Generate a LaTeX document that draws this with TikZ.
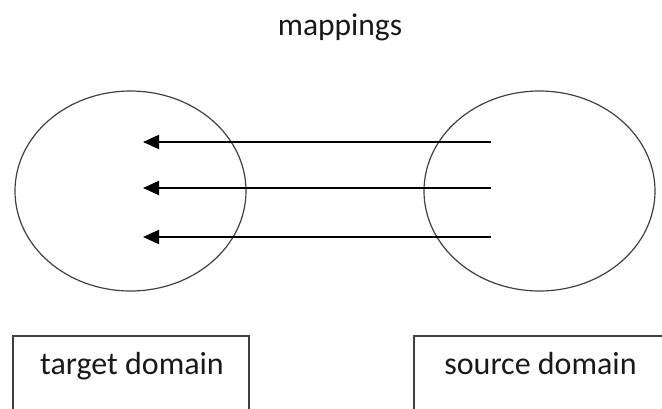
\documentclass[tikz,border=0pt]{standalone}
\usepackage{fontspec}
\setmainfont{Carlito}
\usetikzlibrary{arrows.meta,shapes.geometric}
\begin{document}
\begin{tikzpicture}[x=1pt,y=-1pt,
  domainshape/.style={draw=black!75,line width=1.2pt,ellipse,minimum width=231pt,minimum height=200pt,inner sep=0pt},
  maparrow/.style={draw=black,line width=2pt,-{Triangle[length=16pt,width=14pt]}},
  textlabel/.style={font=\fontsize{#1}{36}\selectfont,text=black!90,anchor=base,inner sep=0pt},
  textlabel/.default=32,
  labelbox/.style={draw=black!75,line width=1.2pt}]
\useasboundingbox (0,0) rectangle (662,408);
\clip (0,0) rectangle (662,408);
% title
\node[textlabel=31.5] (title) at (340,35) {mappings};
% the two domains
\node[domainshape] (target) at (130.5,191) {};
\node[domainshape] (source) at (539.5,191) {};
% mapping arrows, source to target
\coordinate (s1) at (491,142);
\coordinate (s2) at (491,188);
\coordinate (s3) at (491,237);
\coordinate (t1) at (143,142);
\coordinate (t2) at (143,188);
\coordinate (t3) at (143,237);
\draw[maparrow] (s1) -- (t1);
\draw[maparrow] (s2) -- (t2);
\draw[maparrow] (s3) -- (t3);
% label boxes, open below the frame
\draw[labelbox] (13,420) -- (13,336) -- (249,336) -- (249,420);
\draw[labelbox] (700,336) -- (414,336) -- (414,420);
\node[textlabel] (tlabel) at (132,374) {target domain};
\node[textlabel] (slabel) at (540.5,374) {source domain};
\end{tikzpicture}
\end{document}
